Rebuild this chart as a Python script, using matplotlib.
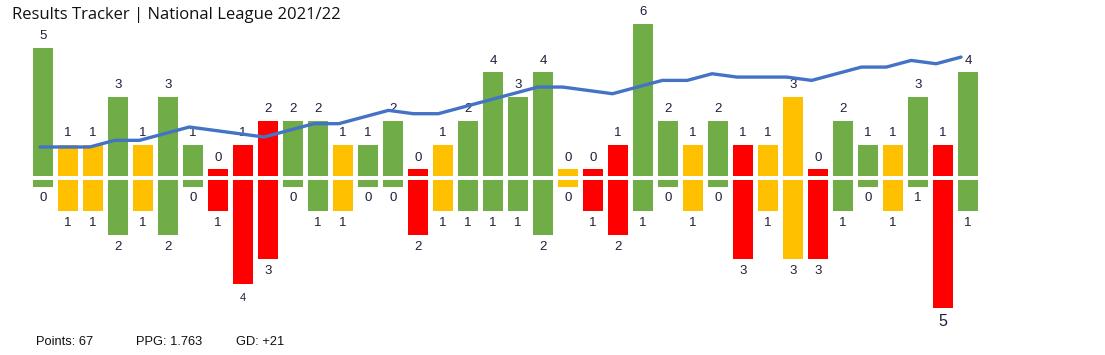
#!/usr/bin/env python3
"""Results tracker: goals for / against per match with a form line."""

import matplotlib

matplotlib.use("Agg")
import matplotlib.pyplot as plt

# match-by-match data
results = list("WDDWDWWLLLWWDWWLDWWWWDLLWWDWLDDLWWDWLW")
goals_for = [5, 1, 1, 3, 1, 3, 1, 0, 1, 2, 2, 2, 1, 1, 2, 0, 1, 2, 4, 3,
             4, 0, 0, 1, 6, 2, 1, 2, 1, 1, 3, 0, 2, 1, 1, 3, 1, 4]
goals_against = [0, 1, 1, 2, 1, 2, 0, 1, 4, 3, 0, 1, 1, 0, 0, 2, 1, 1, 1, 1,
                 2, 0, 1, 2, 1, 0, 1, 0, 3, 1, 3, 3, 1, 0, 1, 0, 5, 1]
# the chart prints "1" under match 36 even though its bar is a zero stub
against_labels = ["0", "1", "1", "2", "1", "2", "0", "1", "4", "3",
                  "0", "1", "1", "0", "0", "2", "1", "1", "1", "1",
                  "2", "0", "1", "2", "1", "0", "1", "0", "3", "1",
                  "3", "3", "1", "0", "1", "1", "5", "1"]
# form line (points above one-per-game pace)
form_line = [2, 2, 2, 4, 4, 6, 8, 7, 6, 5, 7, 9, 9, 11, 13, 12, 12, 14, 16, 18,
             20, 20, 19, 18, 20, 22, 22, 24, 23, 23, 23, 22, 24, 26, 26, 28, 27, 29]

title = "Results Tracker | National League 2021/22"
footer = ["Points: 67", "PPG: 1.763", "GD: +21"]

COLORS = {"W": "#70AD47", "D": "#FFC000", "L": "#FF0000"}
LINE_COLOR = "#4472C4"
LABEL_COLOR = "#1F1F3A"

W, H = 1105, 355
fig = plt.figure(figsize=(W / 100, H / 100), dpi=100)

# axes placement in pixels
ax_left, ax_right = 28, 983
ax_top, ax_bottom = 10, 330
rect = [ax_left / W, 1 - ax_bottom / H, (ax_right - ax_left) / W, (ax_bottom - ax_top) / H]
ax = fig.add_axes(rect)

px_per_goal = 24.3
baseline_px = 178
stub = 0.27
gap = 2 / px_per_goal

x = list(range(1, len(results) + 1))
colors = [COLORS[r] for r in results]

ax.bar(x, [g + stub for g in goals_for], bottom=gap, width=0.8, color=colors)
ax.bar(x, [-(g + stub) for g in goals_against], bottom=-gap, width=0.8, color=colors)

ax.set_xlim(0.4, 38.6)
ax.set_ylim(-(ax_bottom - baseline_px) / px_per_goal, (baseline_px - ax_top) / px_per_goal)

for xi, g in zip(x, goals_for):
    ax.text(xi, gap + g + stub + 0.48, str(g), ha="center", va="center",
            fontsize=9.5, color=LABEL_COLOR, family=["Liberation Sans", "DejaVu Sans"])

for xi, g, lab in zip(x, goals_against, against_labels):
    size = 9.5
    off = 0.48
    if lab == "4":
        size, off = 8, 0.58
    elif lab == "5":
        size, off = 11.5, 0.55
    ax.text(xi, -(gap + g + stub + off), lab, ha="center", va="center",
            fontsize=size, color=LABEL_COLOR, family=["Liberation Sans", "DejaVu Sans"])

ax.axis("off")

# secondary axis for the form line (its points sit slightly tighter than the bars)
ax2 = fig.add_axes(rect)
ax2.plot(x, form_line, color=LINE_COLOR, linewidth=2.4, solid_capstyle="round")
line_xscale = (961 - 40) / 37
line_xmin = 1 - (40 - ax_left) / line_xscale
ax2.set_xlim(line_xmin, line_xmin + (ax_right - ax_left) / line_xscale)
line_px = 3.33
line_top = 2 + (147 - ax_top) / line_px
ax2.set_ylim(line_top - (ax_bottom - ax_top) / line_px, line_top)
ax2.axis("off")

fig.text(12 / W, 1 - 15 / H, title, ha="left", va="center", fontsize=12,
         color="#111111", family=["Open Sans", "DejaVu Sans"])

for xp, txt in zip([36, 136, 236], footer):
    fig.text(xp / W, 1 - 342 / H, txt, ha="left", va="center", fontsize=9.3,
             color="#111111", family=["Liberation Sans", "DejaVu Sans"])

fig.savefig("out.png", dpi=100, facecolor="white")
